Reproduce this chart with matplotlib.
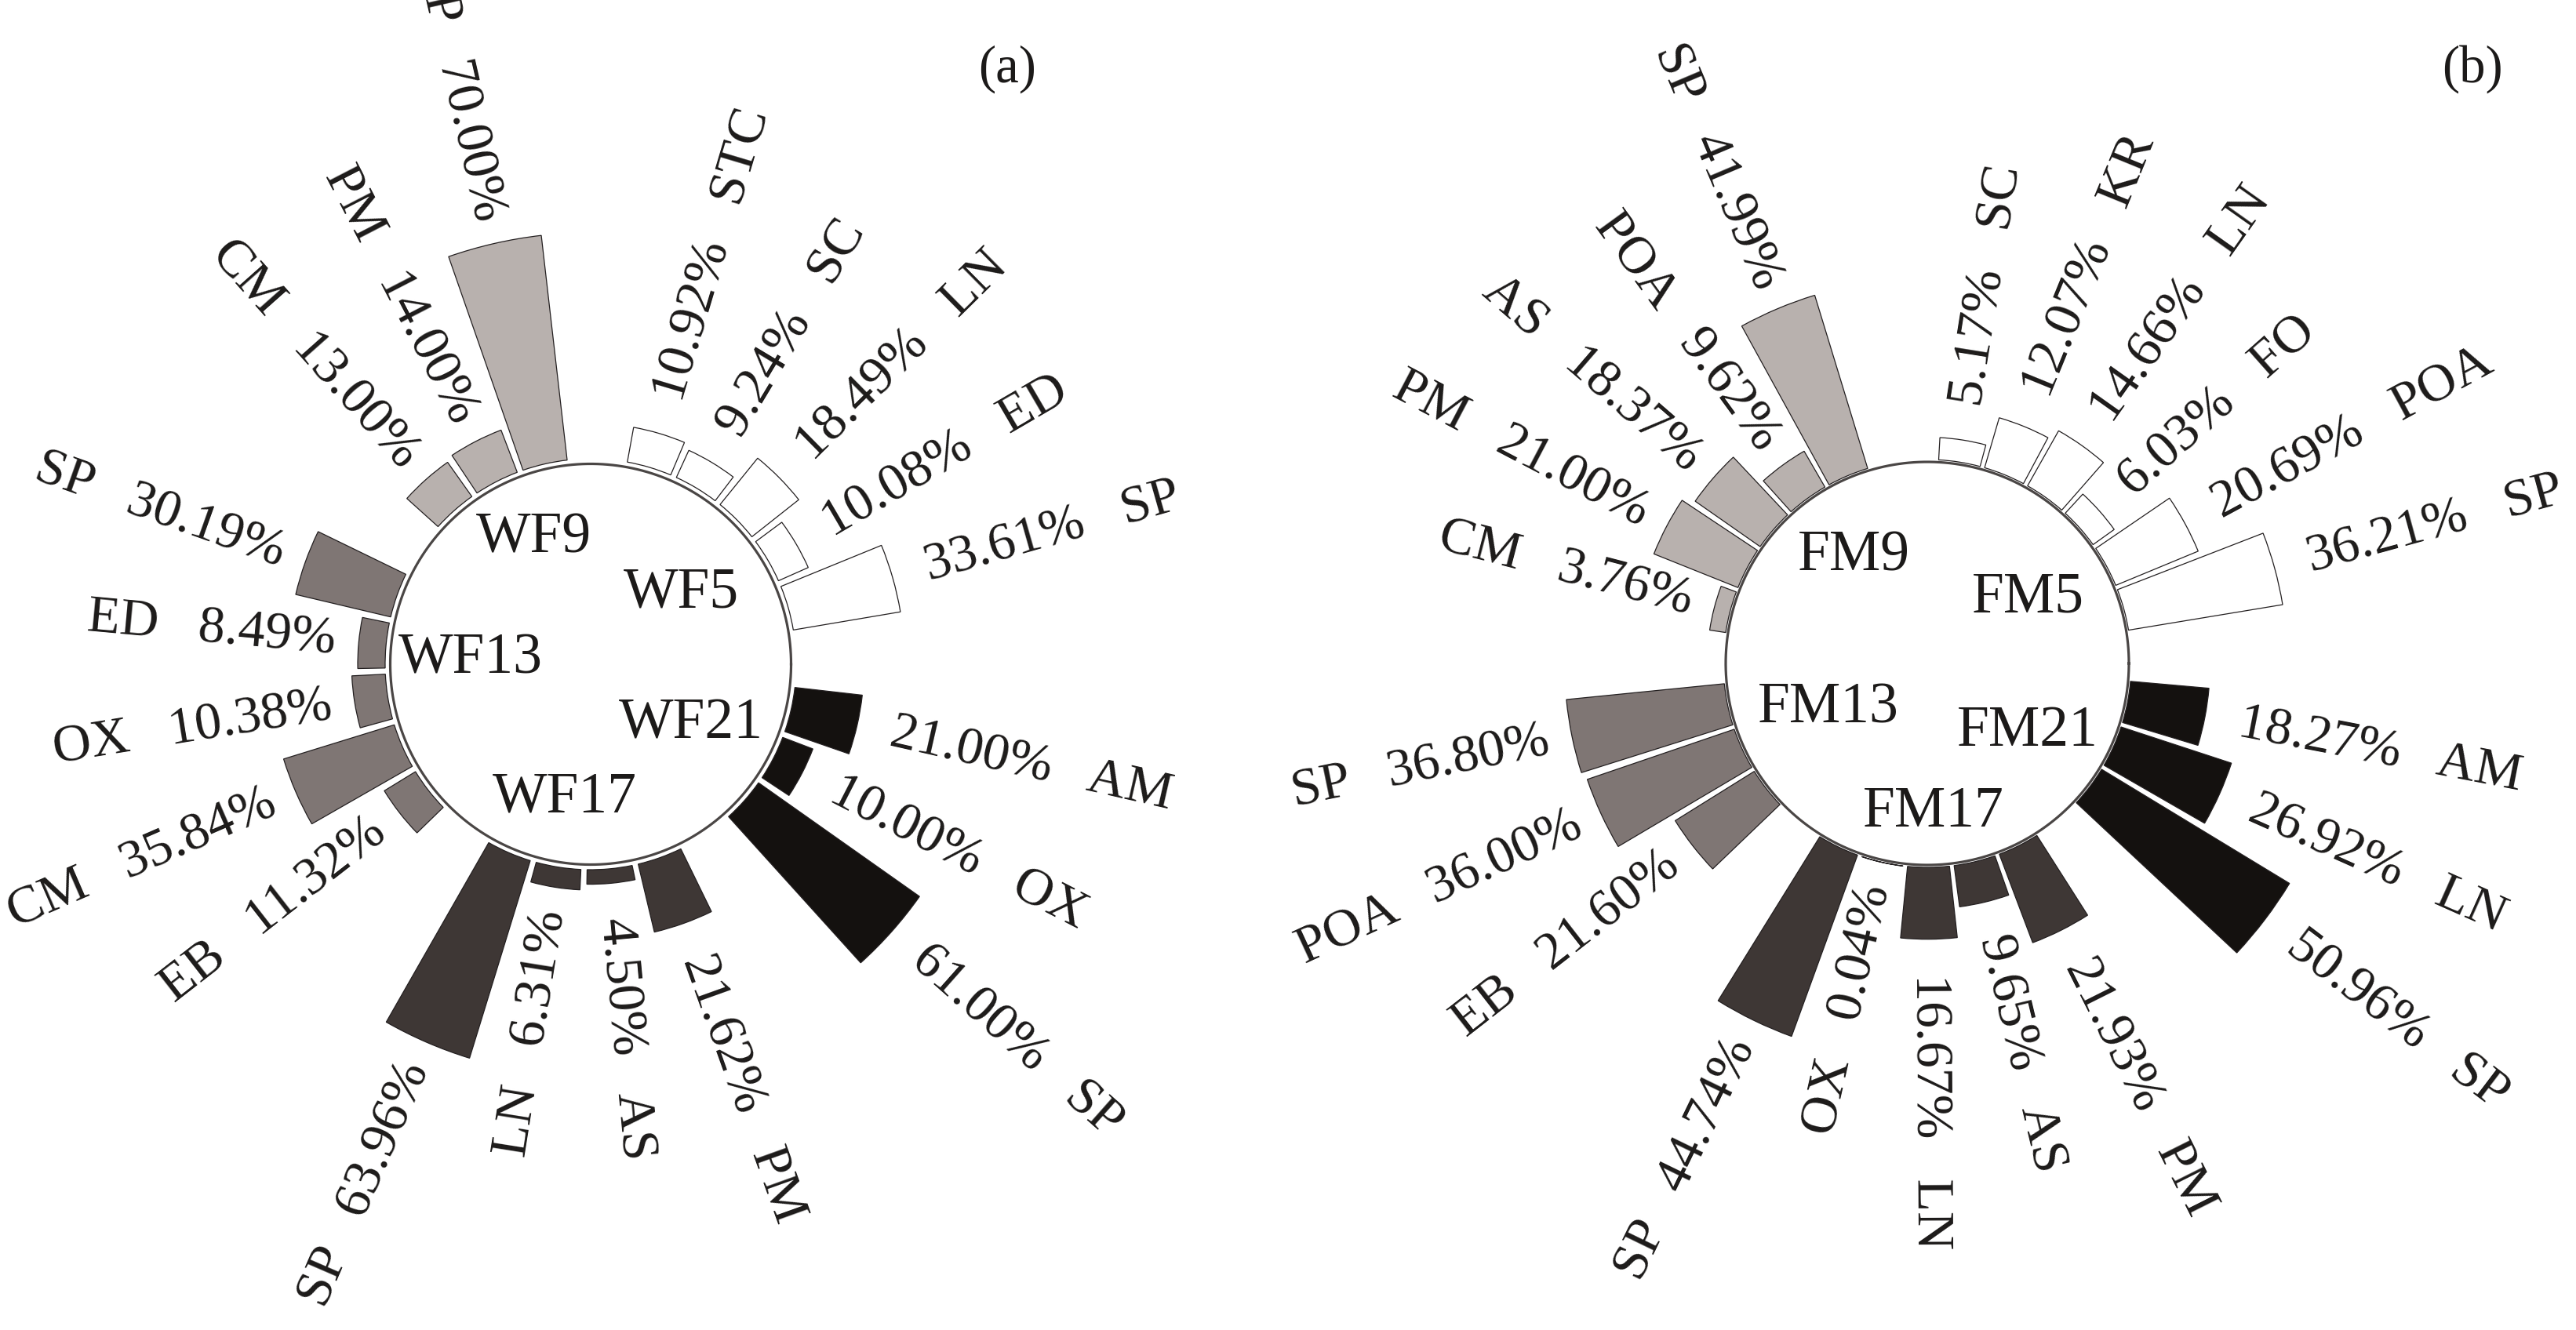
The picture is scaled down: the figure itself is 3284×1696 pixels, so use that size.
import numpy as np
import matplotlib
matplotlib.use("Agg")
import matplotlib.pyplot as plt

plt.rcParams['font.family'] = ['Liberation Serif', 'DejaVu Serif']

# ---------------- Panel (a) data (clockwise from top) ----------------
a_group_names = ["WF5", "WF21", "WF17", "WF13", "WF9"]
a_wf5_labels = ["STC", "SC", "LN", "ED", "SP"]
a_wf5_values = [10.92, 9.24, 18.49, 10.08, 33.61]
a_wf21_labels = ["AM", "OX", "SP"]
a_wf21_values = [21.00, 10.00, 61.00]
a_wf17_labels = ["PM", "AS", "LN", "SP"]
a_wf17_values = [21.62, 4.50, 6.31, 63.96]
a_wf13_labels = ["EB", "CM", "OX", "ED", "SP"]
a_wf13_values = [11.32, 35.84, 10.38, 8.49, 30.19]
a_wf9_labels = ["CM", "PM", "SP"]
a_wf9_values = [13.00, 14.00, 70.00]

# ---------------- Panel (b) data (clockwise from top) ----------------
b_group_names = ["FM5", "FM21", "FM17", "FM13", "FM9"]
b_fm5_labels = ["SC", "KR", "LN", "FO", "POA", "SP"]
b_fm5_values = [5.17, 12.07, 14.66, 6.03, 20.69, 36.21]
b_fm21_labels = ["AM", "LN", "SP"]
b_fm21_values = [18.27, 26.92, 50.96]
b_fm17_labels = ["PM", "AS", "LN", "OX", "SP"]
b_fm17_values = [21.93, 9.65, 16.67, 0.04, 44.74]
b_fm13_labels = ["EB", "POA", "SP"]
b_fm13_values = [21.60, 36.00, 36.80]
b_fm9_labels = ["CM", "PM", "AS", "POA", "SP"]
b_fm9_values = [3.76, 21.00, 18.37, 9.62, 41.99]

# group colours (same order as groups)
group_colors = ["#ffffff", "#14110f", "#3e3735", "#7f7674", "#b8b1ae"]

FIG_W, FIG_H = 3284, 1696
fig = plt.figure(figsize=(FIG_W / 100, FIG_H / 100), dpi=100)
fig.patch.set_facecolor("white")

TXT = "#1c1a19"
SEP = "   "


def draw_panel(center, half, scale, base_px, circle_px, start, pitch, wfrac,
               groups, name_pos, tag, tag_xy):
    cx, cy = center
    ax = fig.add_axes([(cx - half) / FIG_W, (FIG_H - cy - half) / FIG_H,
                       2 * half / FIG_W, 2 * half / FIG_H], projection="polar")
    ax.set_ylim(0, half / scale)
    ax.set_axis_off()
    base = base_px / scale
    k = 0
    for (labels, values, color) in groups:
        for name, v in zip(labels, values):
            ang = start - pitch * k
            th = np.deg2rad(ang)
            ax.bar(th, v, width=np.deg2rad(pitch * wfrac), bottom=base,
                   color=color, edgecolor="#231f20", linewidth=0.9, zorder=3)
            a = (ang + 180) % 360 - 180
            if -90 <= a <= 90:
                rot = a
                ha = "left"
                s = f"{v:.2f}%{SEP}{name}"
                r = base + v + 44 / scale
            else:
                rot = a - 180 if a > 0 else a + 180
                ha = "right"
                s = f"{name}{SEP}{v:.2f}%"
                r = base + v + 30 / scale
            ax.text(th, r, s, rotation=rot, rotation_mode="anchor", ha=ha,
                    va="center", fontsize=49, color=TXT, clip_on=False)
            k += 1
        k += 1
    t = np.linspace(0, 2 * np.pi, 500)
    ax.plot(t, np.full_like(t, circle_px / scale), color="#4a4645", lw=2.3,
            zorder=4)
    for gname, (gang, gr) in zip(name_pos[0], name_pos[1]):
        ax.text(np.deg2rad(gang), gr / scale, gname, ha="center",
                va="center", fontsize=53, color=TXT)
    fig.text(tag_xy[0] / FIG_W, 1 - tag_xy[1] / FIG_H, tag, ha="center",
             va="center", fontsize=48, color=TXT)


a_groups = [(a_wf5_labels, a_wf5_values, group_colors[0]),
            (a_wf21_labels, a_wf21_values, group_colors[1]),
            (a_wf17_labels, a_wf17_values, group_colors[2]),
            (a_wf13_labels, a_wf13_values, group_colors[3]),
            (a_wf9_labels, a_wf9_values, group_colors[4])]
b_groups = [(b_fm5_labels, b_fm5_values, group_colors[0]),
            (b_fm21_labels, b_fm21_values, group_colors[1]),
            (b_fm17_labels, b_fm17_values, group_colors[2]),
            (b_fm13_labels, b_fm13_values, group_colors[3]),
            (b_fm9_labels, b_fm9_values, group_colors[4])]

a_name_pos = (a_group_names,
              [(38, 146), (-31, 149), (-101, 174), (177.8, 153), (114.5, 176)])
b_name_pos = (b_group_names,
              [(33, 153), (-34.2, 155), (-87.6, 190), (-155.3, 139), (124.4, 165)])

draw_panel((753, 847), 620, 4.12, 262, 255.5, 73.4, 14.37, 0.88,
           a_groups, a_name_pos, "(a)", (1284, 88))
draw_panel((2457, 846), 620, 5.5, 260, 257, 80.9, 13.12, 0.90,
           b_groups, b_name_pos, "(b)", (3152, 88))

fig.savefig("out.png", dpi=100, facecolor="white")
